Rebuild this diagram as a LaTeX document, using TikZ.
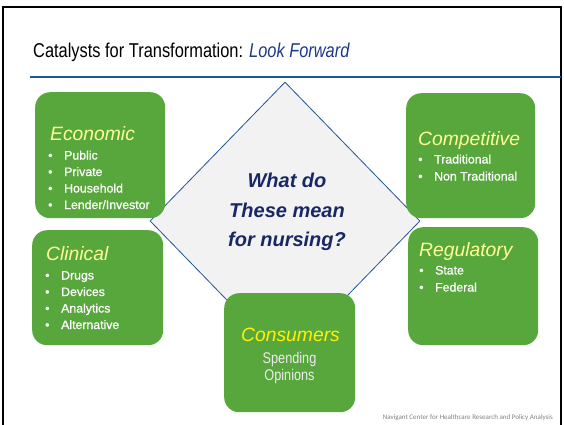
\documentclass[tikz,border=0pt]{standalone}
\usepackage{fontspec}
\usepackage{tikz}
\usetikzlibrary{shapes.geometric}
\setmainfont{Liberation Sans}
\newfontfamily\narrowfont[FakeStretch=0.82]{Liberation Sans}
\newfontfamily\itemfont[FakeBold=0.8]{Liberation Sans}
\newfontfamily\notefont{Carlito}
\definecolor{catgreen}{RGB}{87,167,60}
\definecolor{catyellow}{RGB}{255,255,150}
\definecolor{catblue}{RGB}{32,84,156}
\definecolor{catdeep}{RGB}{30,58,135}
\definecolor{catnavy}{RGB}{24,40,100}
\definecolor{catgray}{RGB}{242,242,242}
\newcommand{\itm}[1]{\makebox[16pt][l]{\textbullet}#1}

\begin{document}
\begin{tikzpicture}[x=1pt,y=-1pt,
  catbox/.style={fill=catgreen, rounded corners=15pt, anchor=north west, inner sep=0pt},
  cattitle/.style={anchor=base west, inner sep=0pt, text=catyellow, font=\itshape\fontsize{19.3}{20}\selectfont},
  catitem/.style={anchor=base west, inner sep=0pt, text=white, font=\itemfont\fontsize{12.3}{14}\selectfont},
  askline/.style={anchor=base, inner sep=0pt, text=catnavy, font=\bfseries\itshape\fontsize{20}{24}\selectfont}]
\useasboundingbox (0,0) rectangle (564,424);
\draw[line width=2pt] (3,425) -- (3,7) -- (561,7) -- (561,425);
%heading
\node[anchor=base west, inner sep=0pt, font=\narrowfont\fontsize{20}{24}\selectfont] (head) at (33,57)
  {Catalysts for Transformation: \textcolor{catdeep}{\itshape Look Forward}};
\coordinate (ruleL) at (30,77);
\coordinate (ruleR) at (561,77);
\draw[catblue, line width=1.6pt] (ruleL) -- (ruleR);
%centre diamond
\node[diamond, draw=catblue, fill=catgray, line width=0.8pt, inner sep=0pt,
  minimum width=270pt, minimum height=278pt] (hub) at (285,221) {};
\node[askline] (ask1) at (287,187) {What do};
\node[askline] (ask2) at (287,217) {These mean};
\node[askline] (ask3) at (287,246) {for nursing?};
%economic
\node[catbox, minimum width=130pt, minimum height=126pt] (econ) at (35,92) {};
\node[cattitle] (econT) at (50,140) {Economic};
\node[catitem] (econ1) at (48,159.5) {\itm{Public}};
\node[catitem] (econ2) at (48,176) {\itm{Private}};
\node[catitem] (econ3) at (48,192.5) {\itm{Household}};
\node[catitem] (econ4) at (48,209) {\itm{Lender/Investor}};
%clinical
\node[catbox, minimum width=131pt, minimum height=115pt] (clin) at (32,230) {};
\node[cattitle] (clinT) at (46,260) {Clinical};
\node[catitem] (clin1) at (45,279.5) {\itm{Drugs}};
\node[catitem] (clin2) at (45,296) {\itm{Devices}};
\node[catitem] (clin3) at (45,312.5) {\itm{Analytics}};
\node[catitem] (clin4) at (45,329) {\itm{Alternative}};
%competitive
\node[catbox, minimum width=129pt, minimum height=125pt] (comp) at (406,93) {};
\node[cattitle] (compT) at (418,145) {Competitive};
\node[catitem] (comp1) at (418,163.5) {\itm{Traditional}};
\node[catitem] (comp2) at (418,180.5) {\itm{Non Traditional}};
%regulatory
\node[catbox, minimum width=130pt, minimum height=118pt] (regu) at (408,227) {};
\node[cattitle] (reguT) at (419,256) {Regulatory};
\node[catitem] (regu1) at (419,274.5) {\itm{State}};
\node[catitem] (regu2) at (419,291.5) {\itm{Federal}};
%consumers
\node[catbox, minimum width=131pt, minimum height=119pt] (cons) at (224,293) {};
\node[cattitle, anchor=base, text=yellow] (consT) at (290.5,341.5) {Consumers};
\node[anchor=base, inner sep=0pt, text=white!93!black, font=\narrowfont\fontsize{15.5}{18}\selectfont] (cons1) at (289.5,363) {Spending};
\node[anchor=base, inner sep=0pt, text=white!93!black, font=\narrowfont\fontsize{15.5}{18}\selectfont] (cons2) at (289.5,380.5) {Opinions};
%notes
\node[anchor=base east, inner sep=0pt, text=black!50, font=\notefont\fontsize{7}{8}\selectfont] (foot) at (553,419)
  {Navigant Center for Healthcare Research and Policy Analysis};
\end{tikzpicture}
\end{document}
